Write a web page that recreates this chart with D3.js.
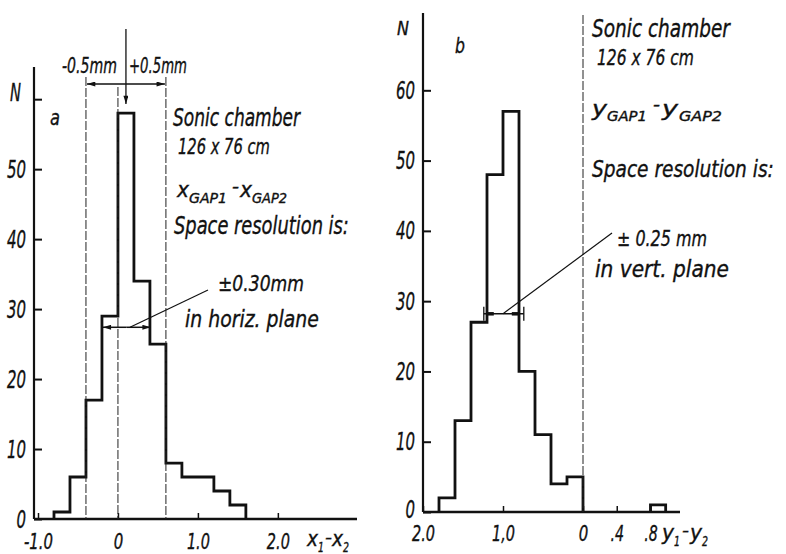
<!DOCTYPE html>
<html>
<head>
<meta charset="utf-8">
<script src="https://cdn.jsdelivr.net/npm/d3@7"></script>
<style>
  body { margin: 0; background: #fff; }
  svg text { font-family: "DejaVu Sans Condensed", "DejaVu Sans", sans-serif; font-style: italic;
             fill: #111; stroke: #111; stroke-width: 0.35px; }
</style>
</head>
<body>
<svg id="chart" width="786" height="554"></svg>
<script>
// panel a: x1 - x2, bin edges and counts
var leftEdges = [-0.8, -0.6, -0.4, -0.2, 0, 0.2, 0.4, 0.6, 0.8, 1.0, 1.2, 1.4, 1.6];
var leftCounts = [1, 6, 17, 29, 58, 34, 25, 8, 6, 6, 4, 2];
var leftXTicks = [-1, 0, 1, 2];
var leftXLabels = ['-1.0', '0', '1.0', '2.0'];
var leftYTicks = [0, 10, 20, 30, 40, 50, 60];
var leftYLabels = ['0', '10', '20', '30', '40', '50', 'N'];
var leftWindow = [-0.4, 0.6];      // -0.5mm / +0.5mm around centre
var leftCentre = 0.1;
var leftRes = {centre: 0.11, half: 0.30, n: 27.4};

// panel b: y1 - y2
var rightEdges = [-1.8, -1.6, -1.4, -1.2, -1.0, -0.8, -0.6, -0.4, -0.2, 0];
var rightCounts = [2, 13, 27, 48, 57, 20, 11, 4, 5];
var rightOutEdges = [0.8, 0.98];
var rightOutCounts = [1];
var rightXTicks = [-2, -1, 0, 0.4, 0.8];
var rightXLabels = ['2.0', '1,0', '0', '.4', '.8'];
var rightYTicks = [0, 10, 20, 30, 40, 50, 60];
var rightYLabels = ['0', '10', '20', '30', '40', '50', '60'];
var rightRes = {centre: -0.99, half: 0.25, n: 28.2};

var svg = d3.select('#chart');

var defs = svg.append('defs');
defs.append('marker').attr('id', 'arr')
    .attr('viewBox', '0 0 10 6').attr('refX', 10).attr('refY', 3)
    .attr('markerWidth', 10).attr('markerHeight', 5).attr('markerUnits', 'userSpaceOnUse')
    .attr('orient', 'auto-start-reverse')
  .append('path').attr('d', 'M0,0L10,3L0,6Z').attr('fill', '#111');

// width of a label in this narrow drafting hand
function labelLen(s) {
    var w = 0;
    for (var i = 0; i < s.length; i++) {
        var c = s[i];
        w += (c === '.' || c === ',') ? 4 : (c === '-' ? 6 : 9.5);
    }
    return w;
}

// text squeezed sideways to the width it has in the print
function txt(g, x, y, s, size, len) {
    var t = g.append('text').attr('font-size', size).text(s);
    var sx = len ? len / t.node().getComputedTextLength() : 1;
    t.attr('transform', 'translate(' + x + ',' + y + ') scale(' + sx + ',1)');
    return t;
}

function stepPath(edges, counts) {
    var pts = [[edges[0], 0]];
    edges.forEach(function(e, i) { pts.push([e, i < counts.length ? counts[i] : 0]); });
    return pts;
}

function drawPanel(o) {
    var g = svg.append('g');
    var x0 = o.x.range()[0], x1 = o.x.range()[o.x.range().length - 1];

    // ticks on the axes (inside)
    var yAxis = d3.axisLeft(o.y).tickValues(o.yTicks).tickSize(-8).tickPadding(8)
        .tickFormat(function(d, i) { return o.yLabels[i]; });
    var ya = g.append('g').attr('transform', 'translate(' + x0 + ',0)').call(yAxis);
    ya.select('.domain').remove();
    ya.selectAll('line').attr('stroke', '#111').attr('stroke-width', 2);
    ya.selectAll('text').attr('font-size', 25).attr('font-family', null)
        .attr('textLength', function(d, i) { return labelLen(o.yLabels[i]); })
        .attr('lengthAdjust', 'spacingAndGlyphs');

    var xAxis = d3.axisBottom(o.x).tickValues(o.xTicks).tickSize(-6).tickPadding(o.xPad)
        .tickFormat(function(d, i) { return o.xLabels[i]; });
    var xa = g.append('g').attr('transform', 'translate(0,' + o.y(0) + ')').call(xAxis);
    xa.select('.domain').remove();
    xa.selectAll('line').attr('stroke', '#111').attr('stroke-width', 1.5);
    xa.selectAll('text').attr('font-size', 22).attr('font-family', null)
        .attr('textLength', function(d, i) { return labelLen(o.xLabels[i]); })
        .attr('lengthAdjust', 'spacingAndGlyphs');

    // axis lines
    g.append('line').attr('x1', x0).attr('x2', x0)
        .attr('y1', o.y.range()[1]).attr('y2', o.y(0))
        .attr('stroke', '#111').attr('stroke-width', 2.2);
    g.append('line').attr('x1', x0).attr('x2', x1)
        .attr('y1', o.y(0)).attr('y2', o.y(0))
        .attr('stroke', '#111').attr('stroke-width', 2.5);

    var line = d3.line().x(function(d) { return o.x(d[0]); })
        .y(function(d) { return o.y(d[1]); }).curve(d3.curveStepAfter);
    o.hists.forEach(function(h) {
        g.append('path').attr('d', line(stepPath(h[0], h[1])))
            .attr('fill', 'none').attr('stroke', '#111').attr('stroke-width', 2.8)
            .attr('stroke-linejoin', 'miter');
    });
    return {g: g, ya: ya, xa: xa};
}

function vdash(g, x, y1, y2) {
    g.append('line').attr('x1', x).attr('x2', x).attr('y1', y1).attr('y2', y2)
        .attr('stroke', '#222').attr('stroke-width', 1).attr('stroke-dasharray', '9,2');
}

// ---------- panel a ----------
var xL = d3.scaleLinear().domain([-1.05, 2.99]).range([34, 357]);
var yL = d3.scaleLinear().domain([0, 64.6]).range([519, 67]);
var pL = drawPanel({x: xL, y: yL, xTicks: leftXTicks, xLabels: leftXLabels, xPad: 14,
    yTicks: leftYTicks, yLabels: leftYLabels, hists: [[leftEdges, leftCounts]]});
var gL = pL.g;
// the N sits a little above its tick
pL.ya.selectAll('text').filter(function(d) { return d === 60; })
    .attr('dy', '0.05em').attr('x', -13).attr('textLength', 11);

vdash(gL, xL(leftWindow[0]), 77, yL(0));
vdash(gL, xL(leftWindow[1]), 77, yL(0));
vdash(gL, xL(0), 87, yL(0));
// dimension line -0.5mm / +0.5mm
gL.append('line').attr('x1', xL(leftCentre)).attr('x2', xL(leftWindow[0]) + 1)
    .attr('y1', 84).attr('y2', 84).attr('stroke', '#111').attr('stroke-width', 1.3)
    .attr('marker-end', 'url(#arr)');
gL.append('line').attr('x1', xL(leftCentre)).attr('x2', xL(leftWindow[1]) - 1)
    .attr('y1', 84).attr('y2', 84).attr('stroke', '#111').attr('stroke-width', 1.3)
    .attr('marker-end', 'url(#arr)');
// centre arrow
gL.append('line').attr('x1', xL(leftCentre)).attr('x2', xL(leftCentre))
    .attr('y1', 29).attr('y2', 104).attr('stroke', '#111').attr('stroke-width', 1.3)
    .attr('marker-end', 'url(#arr)');
txt(gL, 62, 73, '-0.5mm', 21, 55);
txt(gL, 129, 73, '+0.5mm', 21, 58);
txt(gL, 50, 125, 'a', 22, 10);

txt(gL, 173, 126, 'Sonic chamber', 24, 127);
txt(gL, 178, 154, '126 x 76 cm', 22, 92);
txt(gL, 177, 197, 'x', 22, 12);
txt(gL, 189, 203, 'GAP1', 14, 38);
txt(gL, 232, 192, '-', 16, 7);
txt(gL, 240, 197, 'x', 22, 12);
txt(gL, 252, 203, 'GAP2', 14, 35);
txt(gL, 174, 234, 'Space resolution is:', 24, 175);
txt(gL, 218, 291, '\u00b10.30mm', 22, 86);
txt(gL, 185, 327, 'in horiz. plane', 23, 134);

// resolution bar
var ryL = yL(leftRes.n);
gL.append('line').attr('x1', xL(leftRes.centre)).attr('x2', xL(leftRes.centre - leftRes.half))
    .attr('y1', ryL).attr('y2', ryL).attr('stroke', '#111').attr('stroke-width', 1.5)
    .attr('marker-end', 'url(#arr)');
gL.append('line').attr('x1', xL(leftRes.centre)).attr('x2', xL(leftRes.centre + leftRes.half))
    .attr('y1', ryL).attr('y2', ryL).attr('stroke', '#111').attr('stroke-width', 1.5)
    .attr('marker-end', 'url(#arr)');
gL.append('line').attr('x1', 130).attr('y1', ryL).attr('x2', 208).attr('y2', 290)
    .attr('stroke', '#111').attr('stroke-width', 1.2);

// x axis title
txt(gL, 307, 546, 'x', 22, 11);
txt(gL, 318, 552, '1', 14, 6);
txt(gL, 325, 543, '-', 18, 7);
txt(gL, 332, 546, 'x', 22, 11);
txt(gL, 343, 552, '2', 14, 6);

// ---------- panel b ----------
// the printed axis runs a little wider on the right of zero
var xR = d3.scaleLinear().domain([-2, 0, 1.15]).range([423, 583, 680]);
var yR = d3.scaleLinear().domain([0, 71]).range([512, 13]);
var pR = drawPanel({x: xR, y: yR, xTicks: rightXTicks, xLabels: rightXLabels, xPad: 13,
    yTicks: rightYTicks, yLabels: rightYLabels,
    hists: [[rightEdges, rightCounts], [rightOutEdges, rightOutCounts]]});
var gR = pR.g;
pR.ya.selectAll('text').filter(function(d) { return d === 0; }).attr('dy', '0.2em');

vdash(gR, xR(0), 15, yR(0));
txt(gR, 397, 35, 'N', 20, 12);
txt(gR, 455, 53, 'b', 22, 10);

txt(gR, 592, 37, 'Sonic chamber', 24, 138);
txt(gR, 597, 65, '126 x 76 cm', 22, 97);
txt(gR, 592, 116, 'y', 22, 15);
txt(gR, 607, 121, 'GAP1', 14, 40);
txt(gR, 653, 110, '-', 16, 7);
txt(gR, 662, 116, 'y', 22, 16);
txt(gR, 679, 121, 'GAP2', 14, 43);
txt(gR, 592, 177, 'Space resolution is:', 23, 182);
txt(gR, 617, 246, '\u00b1 0.25 mm', 22, 90);
txt(gR, 595, 277, 'in vert. plane', 23, 134);

var ryR = yR(rightRes.n);
var rx1 = xR(rightRes.centre - rightRes.half), rx2 = xR(rightRes.centre + rightRes.half);
gR.append('line').attr('x1', rx1).attr('x2', rx2).attr('y1', ryR).attr('y2', ryR)
    .attr('stroke', '#111').attr('stroke-width', 1.5);
[rx1, rx2].forEach(function(x) {
    gR.append('line').attr('x1', x).attr('x2', x).attr('y1', ryR - 7).attr('y2', ryR + 7)
        .attr('stroke', '#111').attr('stroke-width', 1.3);
});
gR.append('line').attr('x1', rx1 + 3).attr('x2', rx1 + 10).attr('y1', ryR).attr('y2', ryR)
    .attr('stroke', '#111').attr('stroke-width', 3.5);
gR.append('line').attr('x1', rx2 - 12).attr('x2', rx2 - 4).attr('y1', ryR).attr('y2', ryR)
    .attr('stroke', '#111').attr('stroke-width', 3.5);
gR.append('line').attr('x1', 503).attr('y1', ryR).attr('x2', 612).attr('y2', 233)
    .attr('stroke', '#111').attr('stroke-width', 1.2);

txt(gR, 662, 540, 'y', 22, 12);
txt(gR, 674, 546, '1', 14, 6);
txt(gR, 682, 536, '-', 18, 7);
txt(gR, 690, 540, 'y', 22, 12);
txt(gR, 702, 546, '2', 14, 6);
</script>
</body>
</html>
